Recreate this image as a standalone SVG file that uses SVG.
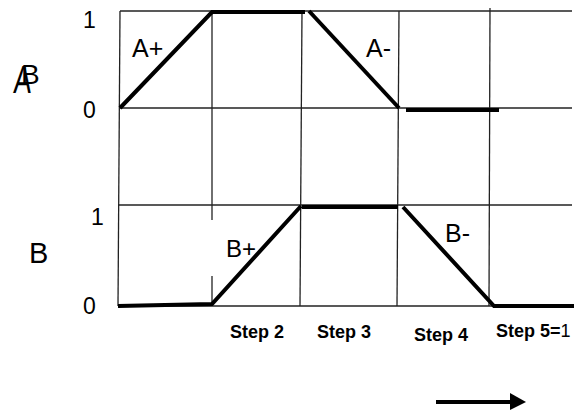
<svg xmlns="http://www.w3.org/2000/svg" width="574" height="412" viewBox="0 0 574 412">
<style>
.grid{stroke:#222;stroke-width:1.3;fill:none}
.sig{stroke:#000;stroke-width:4;fill:none;stroke-linecap:butt}
.t{font-family:"Liberation Sans",Arial,sans-serif;fill:#000}
.s{font-family:"Liberation Sans",Arial,sans-serif;font-weight:bold;font-size:18px;fill:#000}
</style>
<rect width="574" height="412" fill="#fff"/>
<g id="grid">
<line class="grid" x1="120" y1="11" x2="572" y2="11"/>
<line class="grid" x1="120" y1="108" x2="572" y2="108"/>
<line class="grid" x1="118" y1="205" x2="572" y2="205"/>
<line class="grid" x1="118" y1="306" x2="574" y2="306"/>
<line class="grid" x1="120" y1="11" x2="118" y2="306"/>
<line class="grid" x1="212" y1="11" x2="212" y2="220"/>
<line class="grid" x1="212" y1="276" x2="212" y2="305"/>
<line class="grid" x1="302" y1="11" x2="300" y2="306"/>
<line class="grid" x1="399" y1="11" x2="397" y2="306"/>
<line class="grid" x1="490" y1="8" x2="489" y2="306"/>
</g>
<g id="signalA">
<polyline class="sig" points="120,108 212,12 305,12"/>
<line class="sig" x1="309" y1="11" x2="399" y2="108"/>
<line class="sig" x1="406" y1="110" x2="499" y2="110"/>
</g>
<g id="signalB">
<polyline class="sig" points="118,306 212,304 301,206"/>
<line class="sig" x1="302" y1="207" x2="398" y2="207"/>
<polyline class="sig" points="403,207 494,306 574,306"/>
</g>
<g id="labels">
<text class="t" x="83" y="28" font-size="23">1</text>
<text class="t" x="83" y="118" font-size="23">0</text>
<text class="t" font-size="28" transform="translate(13,93) scale(0.95,1.4) skewX(-6)">A</text>
<text class="t" x="21" y="84" font-size="28">B</text>
<text class="t" x="132" y="57" font-size="25">A+</text>
<text class="t" x="366" y="57" font-size="25">A-</text>
<text class="t" x="91" y="225" font-size="23">1</text>
<text class="t" x="83" y="314" font-size="23">0</text>
<text class="t" x="29" y="263" font-size="29">B</text>
<text class="t" x="226" y="257" font-size="24">B+</text>
<text class="t" x="445" y="242" font-size="25">B-</text>
<text class="s" x="230" y="338">Step 2</text>
<text class="s" x="317" y="338">Step 3</text>
<text class="s" x="414" y="341">Step 4</text>
<text class="s" x="496" y="337">Step 5=<tspan font-weight="normal">1</tspan></text>
</g>
<g id="arrow">
<line x1="436" y1="402" x2="512" y2="402" stroke="#000" stroke-width="4"/>
<polygon points="510,393 526,402 510,410" fill="#000"/>
</g>
</svg>
